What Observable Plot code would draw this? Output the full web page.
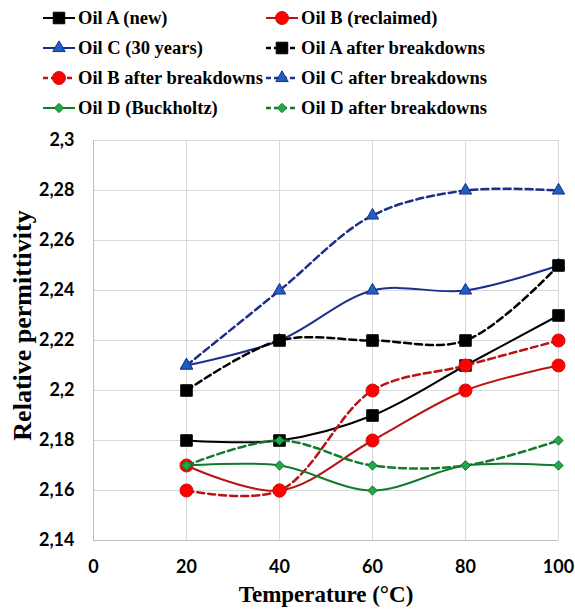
<!DOCTYPE html>
<html><head><meta charset="utf-8">
<script src="https://cdn.jsdelivr.net/npm/d3@7"></script>
<script src="https://cdn.jsdelivr.net/npm/@observablehq/plot@0.6"></script>
<style>
html,body{margin:0;padding:0;background:#fff;}
#wrap{width:575px;height:610px;position:relative;overflow:hidden;background:#fff;}
#legend{position:relative;width:575px;height:120px;color:#000;}
.item{position:absolute;height:24px;line-height:24px;white-space:nowrap;font-family:'Liberation Serif','Times New Roman',serif;font-weight:700;font-size:18.5px;}
#chart svg{display:block;}
</style></head><body><div id="wrap"><div id="legend"></div><div id="chart"></div></div>
<script>
// ---- data ----
const temperatures = [20, 40, 60, 80, 100];
const seriesNames = [
  "Oil A (new)", "Oil B (reclaimed)", "Oil C (30 years)", "Oil A after breakdowns",
  "Oil B after breakdowns", "Oil C after breakdowns", "Oil D (Buckholtz)", "Oil D after breakdowns"
];
const oilA      = [2.18, 2.18, 2.19, 2.21, 2.23];
const oilB      = [2.17, 2.16, 2.18, 2.20, 2.21];
const oilC      = [2.21, 2.22, 2.24, 2.24, 2.25];
const oilAAfter = [2.20, 2.22, 2.22, 2.22, 2.25];
const oilBAfter = [2.16, 2.16, 2.20, 2.21, 2.22];
const oilCAfter = [2.21, 2.24, 2.27, 2.28, 2.28];
const oilD      = [2.17, 2.17, 2.16, 2.17, 2.17];
const oilDAfter = [2.17, 2.18, 2.17, 2.17, 2.18];
const xTicks = [0, 20, 40, 60, 80, 100];
const yTicks = [2.14, 2.16, 2.18, 2.2, 2.22, 2.24, 2.26, 2.28, 2.3];
const xTitle = "Temperature (°C)";
const yTitle = "Relative permittivity";

// ---- styles ----
const seriesValues = [oilA, oilB, oilC, oilAAfter, oilBAfter, oilCAfter, oilD, oilDAfter];
const RED_LINE = "#b81414", RED_FILL = "#ff0000";
const BLUE_LINE = "#1c2f8c", BLUE_FILL = "#1f5fbf";
const GREEN_LINE = "#127a2c", GREEN_FILL = "#22a848";
const styles = [
  {line: "#000", fill: "#000", edge: "#000", symbol: "square", r: 6.5, dashed: false},
  {line: RED_LINE, fill: RED_FILL, edge: "#d01010", symbol: "circle", r: 6.5, dashed: false},
  {line: BLUE_LINE, fill: BLUE_FILL, edge: BLUE_LINE, symbol: "triangle", r: 4.6, dashed: false},
  {line: "#000", fill: "#000", edge: "#000", symbol: "square", r: 6.5, dashed: true},
  {line: RED_LINE, fill: RED_FILL, edge: "#d01010", symbol: "circle", r: 6.5, dashed: true},
  {line: BLUE_LINE, fill: BLUE_FILL, edge: BLUE_LINE, symbol: "triangle", r: 4.6, dashed: true},
  {line: GREEN_LINE, fill: GREEN_FILL, edge: GREEN_LINE, symbol: "diamond2", r: 4.2, dashed: false},
  {line: GREEN_LINE, fill: GREEN_FILL, edge: GREEN_LINE, symbol: "diamond2", r: 4.2, dashed: true}
];
const d3Symbols = {square: d3.symbolSquare, circle: d3.symbolCircle, triangle: d3.symbolTriangle, diamond2: d3.symbolDiamond2};

// ---- legend ----
const legend = d3.select("#legend");
const legendTextX = [78, 301];
seriesNames.forEach((name, i) => {
  const col = i % 2, row = Math.floor(i / 2), st = styles[i];
  const cy = 18 + 30 * row;
  const svg = legend.append("svg")
    .attr("width", 34).attr("height", 20)
    .style("position", "absolute")
    .style("left", (legendTextX[col] - 36) + "px")
    .style("top", (cy - 10) + "px");
  svg.append("line").attr("x1", 1).attr("x2", 33).attr("y1", 10).attr("y2", 10)
    .attr("stroke", st.line).attr("stroke-width", st.dashed ? 2.5 : 2)
    .attr("stroke-dasharray", st.dashed ? "5,3" : null);
  svg.append("path")
    .attr("d", d3.symbol(d3Symbols[st.symbol], Math.PI * st.r * st.r)())
    .attr("transform", "translate(17,10)")
    .attr("fill", st.fill).attr("stroke", st.edge).attr("stroke-width", 1);
  legend.append("div").attr("class", "item")
    .style("font-family", "'Liberation Serif', 'Times New Roman', serif")
    .style("left", legendTextX[col] + "px")
    .style("top", (cy - 12) + "px")
    .text(name);
});

// ---- chart ----
const seriesMarks = seriesNames.flatMap((name, i) => {
  const st = styles[i];
  const rows = temperatures.map((t, j) => ({series: name, temp: t, value: seriesValues[i][j]}));
  return [
    Plot.line(rows, {x: "temp", y: "value", curve: "catmull-rom", stroke: st.line,
      strokeWidth: st.dashed ? 2.5 : 2, strokeDasharray: st.dashed ? "7,4" : null}),
    Plot.dot(rows, {x: "temp", y: "value", symbol: st.symbol, r: st.r, fill: st.fill,
      stroke: st.edge, strokeWidth: 1})
  ];
});

const tickFont = {fontSize: 18, fontWeight: "bold", fontFamily: "Lato, 'Open Sans', sans-serif"};
const titleFont = {fontWeight: "bold", fontFamily: "'Liberation Serif', 'Times New Roman', serif", fill: "#000"};

const chart = Plot.plot({
  width: 575,
  height: 490,
  marginTop: 20,
  marginRight: 17,
  marginBottom: 70,
  marginLeft: 93,
  style: {background: "#fff", color: "#000", overflow: "visible"},
  x: {domain: [0, 100]},
  y: {domain: [2.14, 2.3]},
  marks: [
    Plot.gridX(xTicks, {stroke: "#d9d9d9", strokeOpacity: 1, strokeWidth: 1}),
    Plot.gridY(yTicks, {stroke: "#d9d9d9", strokeOpacity: 1, strokeWidth: 1}),
    Plot.ruleX([0], {stroke: "#bfbfbf", strokeWidth: 1}),
    Plot.ruleY([2.14], {stroke: "#bfbfbf", strokeWidth: 1}),
    Plot.axisX(xTicks, {tickSize: 0, tickPadding: 20, label: null, tickFormat: d => String(d), ...tickFont}),
    Plot.axisY(yTicks, {tickSize: 0, tickPadding: 19, label: null, tickFormat: d => String(d).replace(".", ","), ...tickFont}),
    ...seriesMarks,
    Plot.text([xTitle], {text: d => d, frameAnchor: "bottom", dy: 54, lineAnchor: "middle", textAnchor: "middle", fontSize: 23, ...titleFont}),
    Plot.text([yTitle], {text: d => d, frameAnchor: "left", dx: -71, dy: -15, rotate: -90, lineAnchor: "middle", textAnchor: "middle", fontSize: 26, ...titleFont})
  ]
});
document.getElementById("chart").appendChild(chart);
</script>
</body></html>
